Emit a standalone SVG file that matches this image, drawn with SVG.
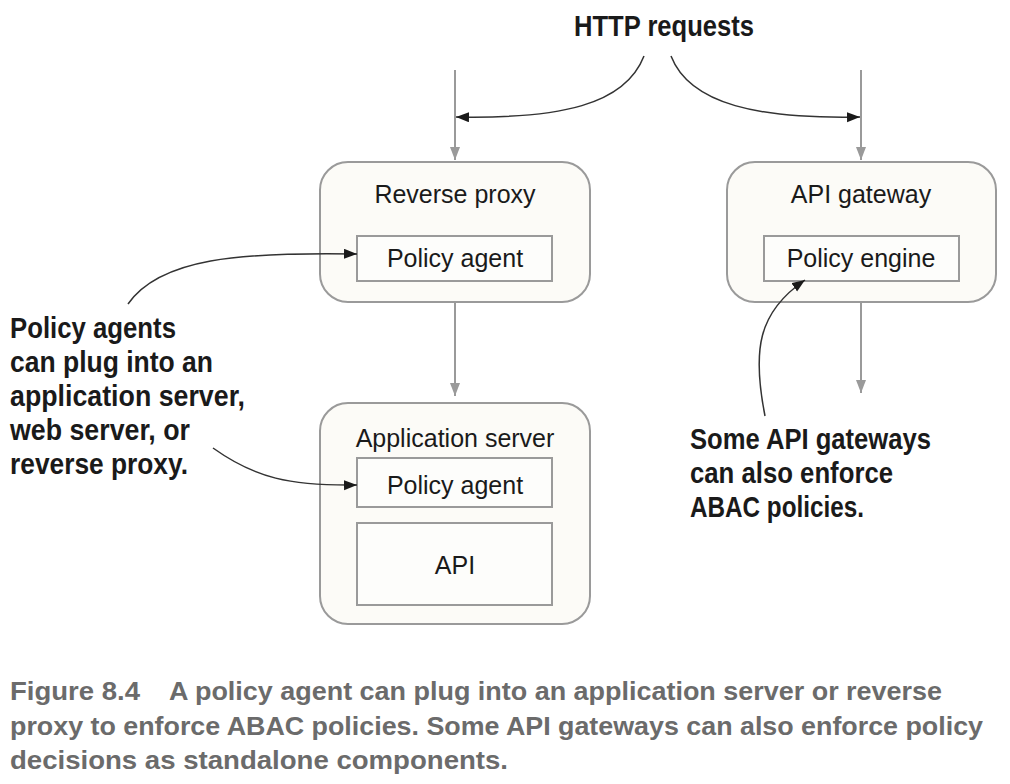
<svg xmlns="http://www.w3.org/2000/svg" width="1010" height="784" viewBox="0 0 1010 784">
<style>
.outer{fill:#fcfbf7;stroke:#9a9a9a;stroke-width:2}
.inner{fill:#fdfdfb;stroke:#9a9a9a;stroke-width:2}
.lbl{font-family:"Liberation Sans",Arial,sans-serif;font-size:25px;fill:#1a1a1a;text-anchor:middle}
.note{font-family:"Liberation Sans",Arial,sans-serif;font-weight:bold;font-size:30px;fill:#1a1a1a}
.cap{font-family:"Liberation Sans",Arial,sans-serif;font-weight:bold;font-size:26px;fill:#6b6b6b}
.gray{fill:none;stroke:#9a9a9a;stroke-width:2}
.blk{fill:none;stroke:#333;stroke-width:1.5}
</style>
<defs>
<marker id="ag" markerUnits="userSpaceOnUse" markerWidth="14" markerHeight="12" refX="13" refY="5" orient="auto"><path d="M0,0 L13,5 L0,10 z" fill="#9a9a9a"/></marker>
<marker id="ab" markerUnits="userSpaceOnUse" markerWidth="14" markerHeight="12" refX="13" refY="5" orient="auto"><path d="M0,0 L13,5 L0,10 z" fill="#1a1a1a"/></marker>
</defs>
<rect width="1010" height="784" fill="#fff"/>

<g id="http-label"><text class="note" x="574" y="36" textLength="180" lengthAdjust="spacingAndGlyphs">HTTP requests</text></g>

<g id="reverse-proxy">
<rect class="outer" x="320" y="162" width="270" height="140" rx="28"/>
<text class="lbl" x="455" y="203">Reverse proxy</text>
<rect class="inner" x="357" y="236" width="195" height="45"/>
<text class="lbl" x="455" y="267">Policy agent</text>
</g>

<g id="api-gateway">
<rect class="outer" x="727" y="162" width="269" height="140" rx="28"/>
<text class="lbl" x="861" y="203">API gateway</text>
<rect class="inner" x="764" y="236" width="195" height="45"/>
<text class="lbl" x="861" y="267">Policy engine</text>
</g>

<g id="application-server">
<rect class="outer" x="320" y="403" width="270" height="221" rx="28"/>
<text class="lbl" x="455" y="447">Application server</text>
<rect class="inner" x="357" y="458" width="195" height="49"/>
<text class="lbl" x="455" y="494">Policy agent</text>
<rect class="inner" x="357" y="523" width="195" height="82"/>
<text class="lbl" x="455" y="574">API</text>
</g>

<g id="note-left">
<text class="note" x="10" y="338" textLength="166" lengthAdjust="spacingAndGlyphs">Policy agents</text>
<text class="note" x="10" y="372" textLength="203" lengthAdjust="spacingAndGlyphs">can plug into an</text>
<text class="note" x="10" y="406" textLength="235" lengthAdjust="spacingAndGlyphs">application server,</text>
<text class="note" x="10" y="440" textLength="180" lengthAdjust="spacingAndGlyphs">web server, or</text>
<text class="note" x="10" y="474" textLength="178" lengthAdjust="spacingAndGlyphs">reverse proxy.</text>
</g>

<g id="note-right">
<text class="note" x="690" y="449" textLength="241" lengthAdjust="spacingAndGlyphs">Some API gateways</text>
<text class="note" x="690" y="483" textLength="203" lengthAdjust="spacingAndGlyphs">can also enforce</text>
<text class="note" x="690" y="517" textLength="174" lengthAdjust="spacingAndGlyphs">ABAC policies.</text>
</g>

<g id="connectors">
<line class="gray" x1="455" y1="70" x2="455" y2="160" marker-end="url(#ag)"/>
<line class="gray" x1="861" y1="70" x2="861" y2="160" marker-end="url(#ag)"/>
<line class="gray" x1="455" y1="302" x2="455" y2="396" marker-end="url(#ag)"/>
<line class="gray" x1="861" y1="302" x2="861" y2="393" marker-end="url(#ag)"/>
<path class="blk" d="M644,56 C625,105 560,119 456,117" marker-end="url(#ab)"/>
<path class="blk" d="M671,56 C690,105 760,119 860,117" marker-end="url(#ab)"/>
<path class="blk" d="M128,304 C160,258 240,252 357,254" marker-end="url(#ab)"/>
<path class="blk" d="M213,448 C255,478 290,486 357,485" marker-end="url(#ab)"/>
<path class="blk" d="M765,416 C752,350 758,312 805,280" marker-end="url(#ab)"/>
</g>

<g id="caption">
<text class="cap" x="10" y="700" textLength="130" lengthAdjust="spacingAndGlyphs">Figure 8.4</text>
<text class="cap" x="169" y="700" textLength="773" lengthAdjust="spacingAndGlyphs">A policy agent can plug into an application server or reverse</text>
<text class="cap" x="10" y="735" textLength="973" lengthAdjust="spacingAndGlyphs">proxy to enforce ABAC policies. Some API gateways can also enforce policy</text>
<text class="cap" x="10" y="769" textLength="498" lengthAdjust="spacingAndGlyphs">decisions as standalone components.</text>
</g>
</svg>
